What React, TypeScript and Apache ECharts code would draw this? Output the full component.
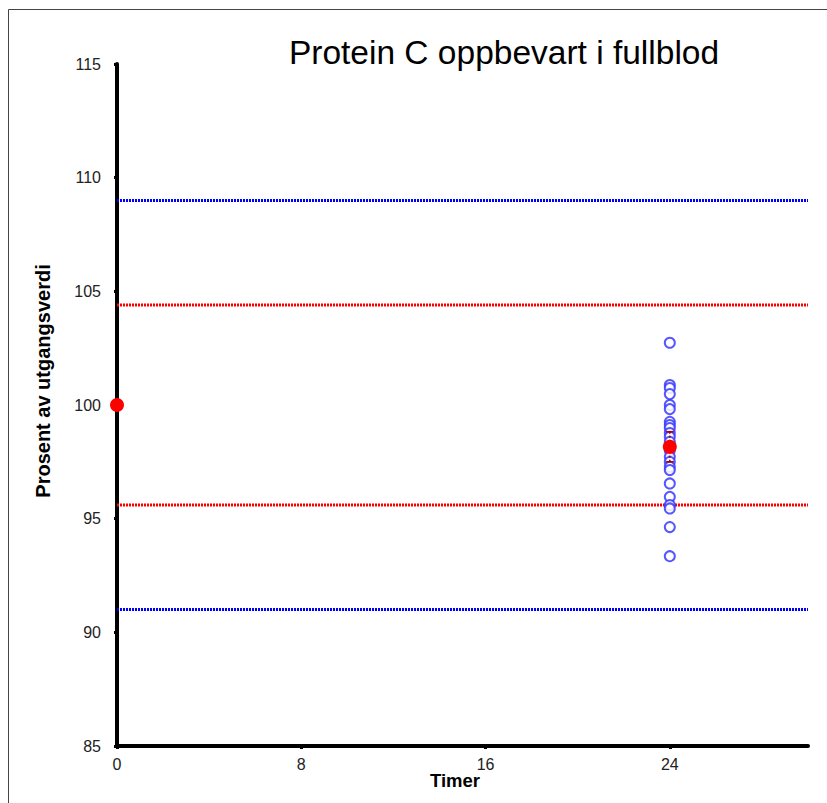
import React, { useEffect, useRef } from "react";
import * as echarts from "echarts";

const xTicks = [0, 8, 16, 24];
const yTicks = [85, 90, 95, 100, 105, 110, 115];
const meanPoints: [number, number][] = [
  [0, 100],
  [24, 98.16],
];
const errorBar = { x: 24, low: 97.5, high: 98.82 };
const hour24Values = [
  102.74, 100.88, 100.75, 100.48, 100.0, 99.82, 99.26, 99.12, 98.99, 98.77,
  98.6, 98.38, 98.0, 97.72, 97.5, 97.28, 97.14, 96.55, 95.96, 95.6, 95.45,
  94.63, 93.35,
];
const outerLimits = [91, 109];
const innerLimits = [95.6, 104.4];
const xMax = 30;

const FONT = "'Liberation Sans', Arial, sans-serif";

export default function App() {
  const ref = useRef<HTMLDivElement>(null);
  useEffect(() => {
    if (!ref.current) return;
    const chart = echarts.init(ref.current, undefined, { renderer: "svg" });
    const limitSeries = (v: number, color: string) => ({
      type: "line",
      data: [
        [0, v],
        [xMax, v],
      ],
      symbol: "none",
      silent: true,
      z: 1,
      lineStyle: { color, width: 3, type: [2, 1] },
    });
    chart.setOption({
      animation: false,
      backgroundColor: "#ffffff",
      grid: { left: 117, right: 19, top: 64, bottom: 57, containLabel: false },
      xAxis: {
        type: "value",
        min: 0,
        max: xMax,
        interval: 8,
        splitLine: { show: false },
        axisLine: { lineStyle: { color: "#000", width: 4 } },
        axisTick: {
          customValues: xTicks,
          length: 3,
          lineStyle: { color: "#000", width: 3 },
        },
        axisLabel: {
          customValues: xTicks,
          color: "#222",
          fontSize: 16,
          fontFamily: FONT,
          margin: 10,
        },
      },
      yAxis: {
        type: "value",
        min: 85,
        max: 115,
        interval: 5,
        splitLine: { show: false },
        axisLine: { lineStyle: { color: "#000", width: 4 } },
        axisTick: {
          customValues: yTicks,
          length: 3,
          lineStyle: { color: "#000", width: 3 },
        },
        axisLabel: {
          customValues: yTicks,
          color: "#222",
          fontSize: 16,
          fontFamily: FONT,
          margin: 16,
        },
      },
      graphic: [
        {
          type: "line",
          shape: { x1: 8.5, y1: 9.5, x2: 827, y2: 9.5 },
          style: { stroke: "#444", lineWidth: 1 },
        },
        {
          type: "line",
          shape: { x1: 8.5, y1: 9.5, x2: 8.5, y2: 803 },
          style: { stroke: "#444", lineWidth: 1 },
        },
        {
          type: "text",
          x: 504,
          y: 52,
          style: {
            text: "Protein C oppbevart i fullblod",
            font: `33.5px ${FONT}`,
            fill: "#000",
            textAlign: "center",
            textVerticalAlign: "middle",
          },
        },
        {
          type: "text",
          x: 43,
          y: 381,
          rotation: Math.PI / 2,
          style: {
            text: "Prosent av utgangsverdi",
            font: `bold 20px ${FONT}`,
            fill: "#000",
            textAlign: "center",
            textVerticalAlign: "middle",
          },
        },
        {
          type: "text",
          x: 455,
          y: 780,
          style: {
            text: "Timer",
            font: `bold 18.5px ${FONT}`,
            fill: "#000",
            textAlign: "center",
            textVerticalAlign: "middle",
          },
        },
      ],
      series: [
        limitSeries(outerLimits[0], "#0000ff"),
        limitSeries(outerLimits[1], "#0000ff"),
        limitSeries(innerLimits[0], "#ff0000"),
        limitSeries(innerLimits[1], "#ff0000"),
        {
          type: "scatter",
          data: hour24Values.map((v) => [24, v]),
          symbol: "emptyCircle",
          symbolSize: 10,
          z: 3,
          itemStyle: { color: "#3a3aff", borderWidth: 1.5, opacity: 0.85 },
        },
        {
          type: "custom",
          z: 4,
          data: [[errorBar.x, errorBar.low, errorBar.high]],
          renderItem: (params: any, api: any) => {
            const top = api.coord([api.value(0), api.value(2)]);
            const bot = api.coord([api.value(0), api.value(1)]);
            const w = 4;
            return {
              type: "group",
              children: [
                {
                  type: "line",
                  shape: { x1: top[0], y1: top[1], x2: bot[0], y2: bot[1] },
                  style: { stroke: "#a00000", lineWidth: 1.5, lineDash: [2, 2] },
                },
                {
                  type: "line",
                  shape: { x1: top[0] - w, y1: top[1], x2: top[0] + w, y2: top[1] },
                  style: { stroke: "#a00000", lineWidth: 1.5 },
                },
                {
                  type: "line",
                  shape: { x1: bot[0] - w, y1: bot[1], x2: bot[0] + w, y2: bot[1] },
                  style: { stroke: "#a00000", lineWidth: 1.5 },
                },
              ],
            };
          },
        },
        {
          type: "scatter",
          data: meanPoints,
          symbol: "circle",
          symbolSize: 14,
          clip: false,
          z: 5,
          itemStyle: { color: "#ff0000", opacity: 1 },
        },
      ],
    });
    return () => chart.dispose();
  }, []);
  return (
    <div
      ref={ref}
      style={{ position: "fixed", left: 0, top: 0, width: 827, height: 803 }}
    />
  );
}
